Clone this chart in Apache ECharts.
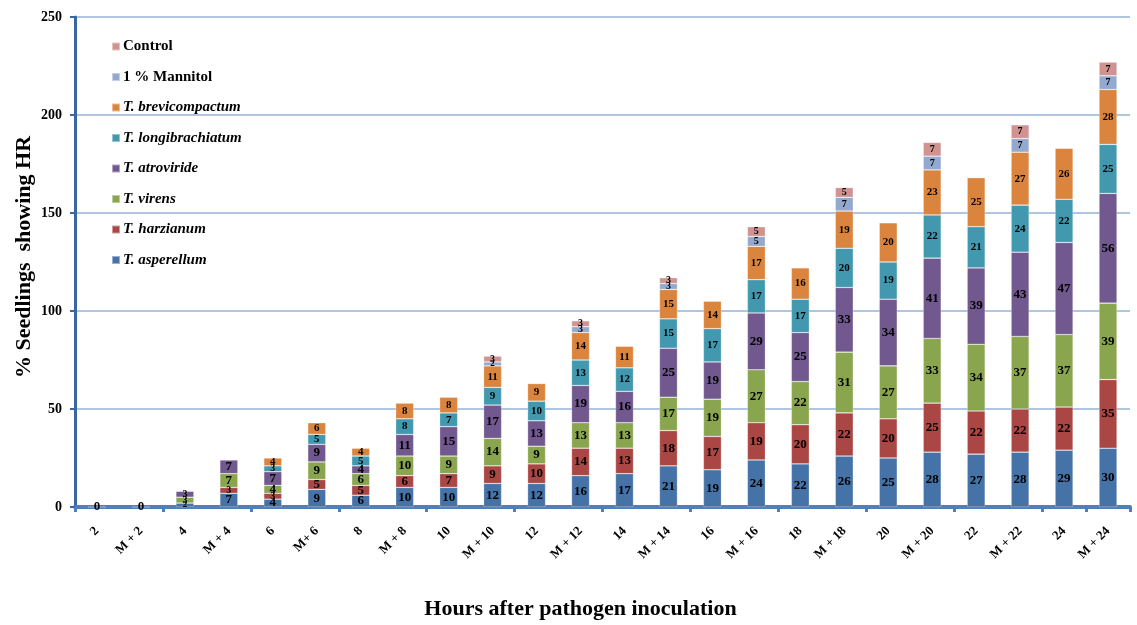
<!DOCTYPE html>
<html><head><meta charset="utf-8">
<script src="https://cdn.jsdelivr.net/npm/echarts@6/dist/echarts.min.js"></script>
<style>html,body{margin:0;padding:0;background:#fff}#c{width:1137px;height:625px}</style>
</head><body><div id="c"></div>
<script>
const categories = ['2','M + 2','4','M + 4','6','M+ 6','8','M + 8','10','M + 10','12','M + 12','14','M + 14','16','M + 16','18','M + 18','20','M + 20','22','M + 22','24','M + 24'];
const yTicks = [0, 50, 100, 150, 200, 250];
const seriesNames = ['T. asperellum','T. harzianum','T. virens','T. atroviride','T. longibrachiatum','T. brevicompactum','1 % Mannitol','Control'];
const asperellum     = [0, 0, 2, 7, 4, 9, 6, 10, 10, 12, 12, 16, 17, 21, 19, 24, 22, 26, 25, 28, 27, 28, 29, 30];
const harzianum      = [null, null, null, 3, 3, 5, 5, 6, 7, 9, 10, 14, 13, 18, 17, 19, 20, 22, 20, 25, 22, 22, 22, 35];
const virens         = [null, null, 3, 7, 4, 9, 6, 10, 9, 14, 9, 13, 13, 17, 19, 27, 22, 31, 27, 33, 34, 37, 37, 39];
const atroviride     = [null, null, 3, 7, 7, 9, 4, 11, 15, 17, 13, 19, 16, 25, 19, 29, 25, 33, 34, 41, 39, 43, 47, 56];
const longibrachiatum= [null, null, null, null, 3, 5, 5, 8, 7, 9, 10, 13, 12, 15, 17, 17, 17, 20, 19, 22, 21, 24, 22, 25];
const brevicompactum = [null, null, null, null, 4, 6, 4, 8, 8, 11, 9, 14, 11, 15, 14, 17, 16, 19, 20, 23, 25, 27, 26, 28];
const mannitol       = [null, null, null, null, null, null, null, null, null, 2, null, 3, null, 3, null, 5, null, 7, null, 7, null, 7, null, 7];
const control        = [null, null, null, null, null, null, null, null, null, 3, null, 3, null, 3, null, 5, null, 5, null, 7, null, 7, null, 7];

const seriesData = [asperellum, harzianum, virens, atroviride, longibrachiatum, brevicompactum, mannitol, control];
const colors = ['#4572A7','#AA4643','#89A54E','#71588F','#4198AF','#DB843D','#93A9CF','#D19392'];
const baseFont = [13, 13, 13, 13, 11, 11, 10, 10];
const serif = '"Liberation Serif","Times New Roman",serif';

const chart = echarts.init(document.getElementById('c'), null, {renderer: 'canvas'});
const series = seriesNames.map((name, i) => ({
  name: name,
  type: 'bar',
  stack: 'total',
  barWidth: 18,
  z: 4,
  itemStyle: {color: colors[i], borderColor: 'rgba(255,255,255,0.45)', borderWidth: 0.6},
  label: {
    show: true, position: 'inside', color: '#000', fontFamily: serif, fontWeight: 'bold',
    fontSize: baseFont[i]
  },
  data: seriesData[i].map(v => {
    if (v === null) return '-';
    let fs = baseFont[i];
    if (v <= 3 && i > 0) fs = Math.min(fs, 10);
    if (v <= 2) fs = Math.min(fs, 9);
    if (v === 0) fs = 13;
    return {value: v, label: {fontSize: fs}};
  })
}));

chart.setOption({
  animation: false,
  grid: {left: 75, right: 7, top: 17, bottom: 109, containLabel: false},
  legend: {
    orient: 'vertical', left: 106, top: 34,
    itemWidth: 8, itemHeight: 8, itemGap: 15.5, icon: 'rect',
    data: seriesNames.slice().reverse(),
    formatter: n => n.startsWith('T.') ? '{i|' + n + '}' : '{b|' + n + '}',
    textStyle: {
      fontFamily: serif, fontWeight: 'bold', fontSize: 15, color: '#000', lineHeight: 15, padding: [0,0,0,-2],
      rich: {
        i: {fontFamily: serif, fontWeight: 'bold', fontStyle: 'italic', fontSize: 15, color: '#000'},
        b: {fontFamily: serif, fontWeight: 'bold', fontSize: 15, color: '#000'}
      }
    }
  },
  xAxis: {
    type: 'category', data: categories,
    name: 'Hours after pathogen inoculation', nameLocation: 'middle', nameGap: 91,
    nameTextStyle: {fontFamily: serif, fontWeight: 'bold', fontSize: 22, color: '#000', padding: [0, 44, 0, 0]},
    axisLine: {lineStyle: {color: '#4F7FBD', width: 4}},
    axisTick: {show: true, interval: 1, length: 5, lineStyle: {color: '#4F7FBD', width: 3}},
    axisLabel: {rotate: 45, interval: 0, margin: 22, fontFamily: serif, fontWeight: 'bold', fontSize: 13, color: '#000'}
  },
  yAxis: {
    type: 'value', min: yTicks[0], max: yTicks[yTicks.length - 1], interval: 50,
    name: '% Seedlings  showing HR', nameLocation: 'middle', nameGap: 40, nameRotate: 90,
    nameMoveOverlap: false,
    nameTextStyle: {fontFamily: serif, fontWeight: 'bold', fontSize: 22, color: '#000', padding: [0, 0, 0, 10]},
    axisLine: {show: true, lineStyle: {color: '#3A66A0', width: 3}},
    axisTick: {show: true, length: 5, lineStyle: {color: '#3A66A0', width: 2}},
    axisLabel: {margin: 13, fontFamily: serif, fontWeight: 'bold', fontSize: 14, color: '#000'},
    splitLine: {lineStyle: {color: '#95B3D7', width: 1.5}}
  },
  series: series
});
</script>
</body></html>
